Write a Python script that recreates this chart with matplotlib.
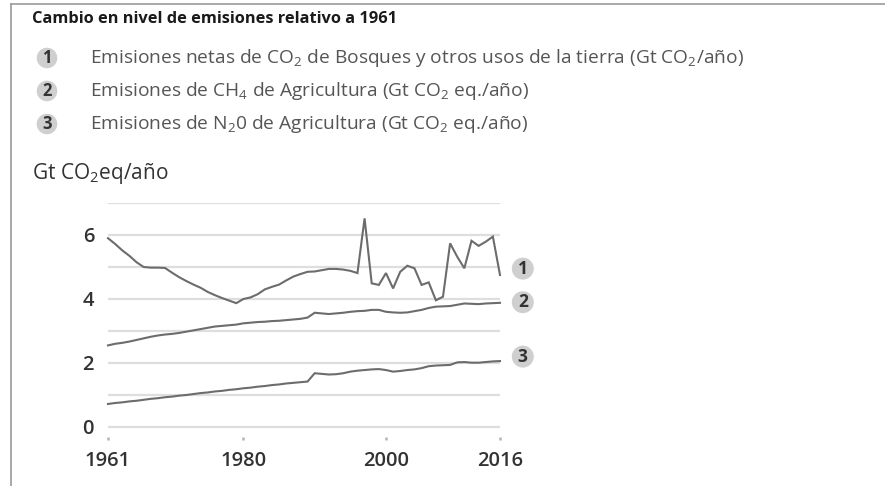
import matplotlib
matplotlib.use("Agg")
import matplotlib.pyplot as plt
from matplotlib.lines import Line2D

plt.rcParams['font.family'] = ['Open Sans', 'DejaVu Sans']
plt.rcParams['mathtext.fontset'] = 'custom'
plt.rcParams['mathtext.rm'] = 'Open Sans'
plt.rcParams['mathtext.it'] = 'Open Sans'
plt.rcParams['mathtext.bf'] = 'Open Sans:bold'

years = list(range(1961, 2017))

co2_forest = [5.90, 5.72, 5.52, 5.35, 5.15, 5.00, 4.98, 4.98, 4.97, 4.82,
              4.68, 4.56, 4.45, 4.35, 4.22, 4.12, 4.03, 3.95, 3.87, 4.00,
              4.05, 4.15, 4.30, 4.38, 4.45, 4.58, 4.70, 4.78, 4.85, 4.86,
              4.90, 4.94, 4.94, 4.92, 4.88, 4.81, 6.52, 4.49, 4.44, 4.81,
              4.33, 4.85, 5.04, 4.96, 4.44, 4.52, 3.96, 4.07, 5.74, 5.32,
              4.96, 5.82, 5.66, 5.79, 5.95, 4.75]

ch4_agri = [2.55, 2.60, 2.63, 2.67, 2.72, 2.77, 2.82, 2.86, 2.89, 2.91,
            2.94, 2.98, 3.02, 3.06, 3.10, 3.14, 3.16, 3.18, 3.20, 3.24,
            3.26, 3.28, 3.29, 3.31, 3.32, 3.34, 3.36, 3.38, 3.42, 3.57,
            3.55, 3.53, 3.55, 3.57, 3.60, 3.62, 3.63, 3.66, 3.66, 3.60,
            3.58, 3.57, 3.58, 3.62, 3.66, 3.72, 3.76, 3.77, 3.78, 3.82,
            3.86, 3.85, 3.84, 3.86, 3.87, 3.88]

n2o_agri = [0.72, 0.75, 0.77, 0.80, 0.82, 0.85, 0.88, 0.90, 0.93, 0.95,
            0.98, 1.00, 1.03, 1.06, 1.08, 1.11, 1.13, 1.16, 1.18, 1.21,
            1.23, 1.26, 1.28, 1.31, 1.33, 1.36, 1.38, 1.40, 1.42, 1.68,
            1.66, 1.64, 1.65, 1.68, 1.73, 1.76, 1.78, 1.80, 1.81, 1.78,
            1.73, 1.75, 1.78, 1.80, 1.84, 1.90, 1.92, 1.93, 1.94, 2.02,
            2.03, 2.01, 2.01, 2.03, 2.05, 2.06]

series = [co2_forest, ch4_agri, n2o_agri]
series_ids = ['1', '2', '3']
label_y = [4.95, 3.90, 2.20]

title = "Cambio en nivel de emisiones relativo a 1961"
legend_texts = [
    r"Emisiones netas de CO$_2$ de Bosques y otros usos de la tierra (Gt CO$_2$/año)",
    r"Emisiones de CH$_4$ de Agricultura (Gt CO$_2$ eq./año)",
    r"Emisiones de N$_2$0 de Agricultura (Gt CO$_2$ eq./año)",
]
y_label = r"Gt CO$_2$eq/año"
x_ticks = [1961, 1980, 2000, 2016]
y_ticks = [0, 1, 2, 3, 4, 5, 6, 7]
y_ticklabels = ['0', '', '2', '', '4', '', '6', '']

W, H = 885, 486
fig = plt.figure(figsize=(W / 100, H / 100), dpi=100)
fig.patch.set_facecolor('white')

def fx(px):
    return px / W

def fy(py):
    return 1 - py / H

# frame lines (left and top)
fig.add_artist(Line2D([fx(11), fx(11)], [fy(4), fy(486)], color='#9a9a9a', lw=1.2))
fig.add_artist(Line2D([fx(11), fx(885)], [fy(4), fy(4)], color='#9a9a9a', lw=1.2))

# main axes: x 1961..2016 -> px 108..500 ; y -0.3125..7 -> px 437..203
ax_left, ax_right = 108, 500
ax_top, ax_bot = 203, 437
ax = fig.add_axes([fx(ax_left), fy(ax_bot), (ax_right - ax_left) / W, (ax_bot - ax_top) / H])
ax.set_xlim(1961, 2016)
ax.set_ylim(-0.3125, 7)
for s in ax.spines.values():
    s.set_visible(False)
ax.set_facecolor('none')

for v in y_ticks:
    ax.axhline(v, color='#dedede', lw=1.6, zorder=1)

for vals in series:
    ax.plot(years, vals, color='#6c6c6c', lw=1.5, zorder=3, clip_on=False,
            solid_joinstyle='miter')

ax.set_xticks(x_ticks)
ax.set_xticklabels([str(t) for t in x_ticks], fontsize=14.5, fontweight='semibold', color='#333333')
ax.set_yticks(y_ticks)
ax.set_yticklabels(y_ticklabels, fontsize=14.5, fontweight='semibold', color='#333333')
ax.tick_params(axis='x', length=1.8, width=1.8, color='#b5b5b5', pad=8)
ax.tick_params(axis='y', length=0, pad=10)

# end labels
end_x = [2016 + 3.2] * 3
ax.scatter(end_x, label_y, s=250, color='#cfcfcf', edgecolors='none', zorder=4, clip_on=False)
for xx, yy, t in zip(end_x, label_y, series_ids):
    ax.text(xx, yy, t, ha='center', va='center', fontsize=12.5, fontweight='bold',
            color='#333333', zorder=5, clip_on=False)

# overlay axes in pixel coordinates for header texts
ov = fig.add_axes([0, 0, 1, 1])
ov.set_xlim(0, W)
ov.set_ylim(H, 0)
ov.axis('off')

ov.text(32, 19, title, ha='left', va='center', fontsize=11.8, fontweight='bold', color='#1a1a1a')
leg_y = [58, 91, 124]
for yy, t, lt in zip(leg_y, series_ids, legend_texts):
    ov.scatter([47], [yy], s=220, color='#cfcfcf', edgecolors='none', zorder=4)
    ov.text(47, yy, t, ha='center', va='center', fontsize=12, fontweight='bold', color='#333333', zorder=5)
    ov.text(90, yy, lt, ha='left', va='center', fontsize=13.8, color='#555555')

ov.text(32, 173, y_label, ha='left', va='center', fontsize=15, color='#333333')

fig.savefig('out.png', dpi=100, facecolor='white')
